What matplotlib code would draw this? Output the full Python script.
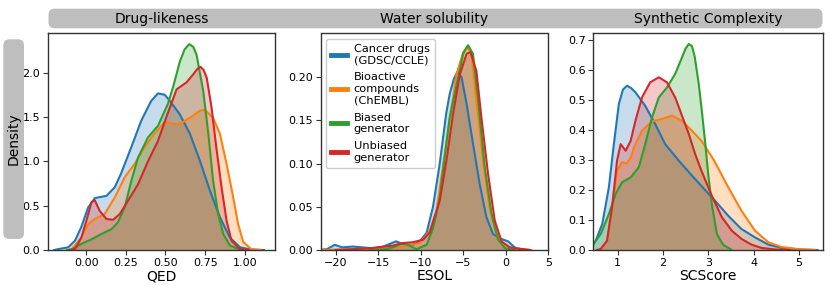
import matplotlib
matplotlib.use("Agg")
import matplotlib.pyplot as plt
from matplotlib.patches import FancyBboxPatch
from matplotlib.lines import Line2D

# ---------------- data ----------------
series_names = ["Cancer drugs\n(GDSC/CCLE)", "Bioactive\ncompounds\n(ChEMBL)",
                "Biased\ngenerator", "Unbiased\ngenerator"]
colors = ["#1f77b4", "#ff7f0e", "#2ca02c", "#d62728"]
panel_titles = ["Drug-likeness", "Water solubility", "Synthetic Complexity"]
x_labels = ["QED", "ESOL", "SCScore"]

# Panel 1: QED
qed_blue_x = [-0.2, -0.176, -0.113, -0.07, -0.03, 0.013, 0.055, 0.128, 0.18, 0.22, 0.285, 0.348,
              0.41, 0.453, 0.495, 0.528, 0.59, 0.654, 0.717, 0.78, 0.843, 0.906, 0.97, 1.04, 1.12]
qed_blue_y = [0, 0.01, 0.03, 0.105, 0.26, 0.48, 0.585, 0.61, 0.705, 0.86, 1.16, 1.46,
              1.68, 1.765, 1.75, 1.68, 1.53, 1.31, 1.005, 0.67, 0.37, 0.14, 0.03, 0.005, 0]
qed_orange_x = [-0.12, -0.09, -0.03, 0.013, 0.055, 0.117, 0.18, 0.243, 0.306, 0.369, 0.43, 0.495,
                0.55, 0.59, 0.654, 0.717, 0.748, 0.80, 0.843, 0.885, 0.927, 0.958, 0.99, 1.04, 1.1]
qed_orange_y = [0, 0.01, 0.14, 0.29, 0.35, 0.405, 0.59, 0.82, 0.97, 1.16, 1.31, 1.44,
                1.42, 1.42, 1.49, 1.57, 1.58, 1.49, 1.31, 0.97, 0.59, 0.29, 0.09, 0.01, 0]
qed_green_x = [-0.12, -0.09, -0.03, 0.034, 0.096, 0.16, 0.2, 0.243, 0.285, 0.327, 0.39, 0.453,
               0.516, 0.55, 0.59, 0.62, 0.65, 0.675, 0.696, 0.738, 0.77, 0.80, 0.832, 0.864,
               0.906, 0.97, 1.02]
qed_green_y = [0, 0.005, 0.07, 0.12, 0.18, 0.235, 0.31, 0.48, 0.78, 1.04, 1.27, 1.4,
               1.65, 1.85, 2.12, 2.26, 2.32, 2.29, 2.2, 1.79, 1.31, 0.78, 0.405, 0.18,
               0.05, 0.005, 0]
qed_red_x = [-0.1, -0.07, -0.03, 0.002, 0.034, 0.055, 0.086, 0.128, 0.17, 0.212, 0.264, 0.327,
             0.39, 0.453, 0.506, 0.57, 0.633, 0.675, 0.70, 0.72, 0.74, 0.76, 0.79, 0.82, 0.853,
             0.885, 0.916, 0.97, 1.02]
qed_red_y = [0, 0.01, 0.14, 0.33, 0.54, 0.56, 0.44, 0.35, 0.34, 0.405, 0.555, 0.74,
             1.0, 1.23, 1.5, 1.81, 1.89, 1.98, 2.04, 2.065, 2.03, 1.94, 1.61, 1.16, 0.71,
             0.33, 0.105, 0.01, 0]

# Panel 2: ESOL
esol_blue_x = [-22, -21, -20.1, -19.2, -18, -16.8, -15.6, -14.4, -12.9, -11.9, -10.9, -10.1,
               -9.3, -8.55, -7.76, -7.0, -6.6, -6.1, -5.7, -5.2, -4.6, -3.85, -3.06, -2.27,
               -1.5, -0.5, 0.27, 1.06, 2]
esol_blue_y = [0, 0.001, 0.006, 0.003, 0.004, 0.003, 0.002, 0.004, 0.01, 0.006, 0.006, 0.01,
               0.02, 0.05, 0.1, 0.158, 0.18, 0.198, 0.206, 0.2, 0.169, 0.123, 0.076, 0.038,
               0.0185, 0.0127, 0.01, 0.003, 0]
esol_orange_x = [-22, -18, -14, -12, -10.1, -8.94, -8.15, -7.4, -6.6, -5.8, -5.0, -4.55, -4.04,
                 -3.45, -2.67, -1.9, -1.1, -0.35, 0.9, 3]
esol_orange_y = [0, 0.001, 0.002, 0.004, 0.008, 0.022, 0.045, 0.096, 0.149, 0.203, 0.229, 0.235,
                 0.227, 0.173, 0.103, 0.049, 0.0185, 0.006, 0.002, 0]
esol_green_x = [-16, -14, -13, -12.1, -11.3, -10.5, -9.3, -8.55, -7.76, -7.4, -6.6, -5.8, -5.0,
                -4.43, -3.85, -3.25, -2.47, -1.68, -0.9, -0.1, 1]
esol_green_y = [0, 0.001, 0.004, 0.008, 0.005, 0.001, 0.006, 0.025, 0.06, 0.09, 0.153, 0.19,
                0.227, 0.237, 0.227, 0.173, 0.096, 0.042, 0.012, 0.002, 0]
esol_red_x = [-20, -16, -13.3, -12.1, -10.9, -9.7, -8.94, -7.76, -6.98, -6.2, -5.4, -4.6, -4.15,
              -3.45, -2.86, -2.08, -1.29, -0.5, 0.47, 2.8]
esol_red_y = [0, 0.002, 0.005, 0.008, 0.009, 0.012, 0.02, 0.057, 0.103, 0.157, 0.203, 0.227,
              0.229, 0.207, 0.153, 0.088, 0.034, 0.01, 0.003, 0]

# Panel 3: SCScore
sc_blue_x = [0.47, 0.52, 0.665, 0.81, 0.92, 1.03, 1.12, 1.21, 1.3, 1.395, 1.61, 1.83, 2.05,
             2.35, 2.64, 2.93, 3.15, 3.44, 3.73, 4.03, 4.32, 4.61, 4.98, 5.4]
sc_blue_y = [0.02, 0.031, 0.087, 0.209, 0.353, 0.487, 0.535, 0.548, 0.54, 0.526, 0.481, 0.42,
             0.353, 0.298, 0.248, 0.2, 0.164, 0.114, 0.07, 0.042, 0.018, 0.007, 0.002, 0]
sc_orange_x = [0.55, 0.63, 0.77, 0.88, 0.99, 1.1, 1.2, 1.3, 1.36, 1.54, 1.76, 1.98, 2.2, 2.42,
               2.64, 2.86, 3.08, 3.15, 3.44, 3.73, 4.03, 4.32, 4.61, 4.98, 5.35]
sc_orange_y = [0, 0.003, 0.031, 0.142, 0.264, 0.293, 0.288, 0.31, 0.342, 0.398, 0.429, 0.437,
               0.448, 0.431, 0.398, 0.362, 0.31, 0.292, 0.209, 0.131, 0.064, 0.026, 0.01, 0.003, 0]
sc_green_x = [0.47, 0.63, 0.81, 0.96, 1.1, 1.29, 1.47, 1.61, 1.76, 1.91, 2.09, 2.27, 2.42, 2.5,
              2.57, 2.64, 2.7, 2.79, 2.86, 2.93, 3.0, 3.08, 3.19, 3.33, 3.5]
sc_green_y = [0.02, 0.053, 0.12, 0.187, 0.226, 0.242, 0.276, 0.353, 0.442, 0.509, 0.542, 0.587,
              0.642, 0.672, 0.687, 0.68, 0.645, 0.553, 0.46, 0.36, 0.25, 0.15, 0.053, 0.017, 0.002]
sc_red_x = [0.55, 0.63, 0.77, 0.88, 0.99, 1.07, 1.18, 1.29, 1.395, 1.54, 1.72, 1.91, 2.09, 2.27,
            2.42, 2.57, 2.71, 2.86, 3.08, 3.3, 3.52, 3.73, 3.95, 4.17, 4.46, 4.8]
sc_red_y = [0, 0.003, 0.031, 0.142, 0.298, 0.353, 0.331, 0.364, 0.431, 0.509, 0.559, 0.576,
            0.559, 0.509, 0.448, 0.387, 0.32, 0.26, 0.18, 0.109, 0.064, 0.037, 0.018, 0.007,
            0.002, 0]

panels = [
    [(qed_blue_x, qed_blue_y), (qed_orange_x, qed_orange_y),
     (qed_green_x, qed_green_y), (qed_red_x, qed_red_y)],
    [(esol_blue_x, esol_blue_y), (esol_orange_x, esol_orange_y),
     (esol_green_x, esol_green_y), (esol_red_x, esol_red_y)],
    [(sc_blue_x, sc_blue_y), (sc_orange_x, sc_orange_y),
     (sc_green_x, sc_green_y), (sc_red_x, sc_red_y)],
]
xticks = [[0.0, 0.25, 0.5, 0.75, 1.0], [-20, -15, -10, -5, 0, 5], [1, 2, 3, 4, 5]]
xticklabels = [["0.00", "0.25", "0.50", "0.75", "1.00"],
               ["\u221220", "\u221215", "\u221210", "\u22125", "0", "5"],
               ["1", "2", "3", "4", "5"]]
yticks = [[0.0, 0.5, 1.0, 1.5, 2.0], [0.0, 0.05, 0.10, 0.15, 0.20],
          [0.0, 0.1, 0.2, 0.3, 0.4, 0.5, 0.6, 0.7]]
yticklabels = [["0.0", "0.5", "1.0", "1.5", "2.0"],
               ["0.00", "0.05", "0.10", "0.15", "0.20"],
               ["0.0", "0.1", "0.2", "0.3", "0.4", "0.5", "0.6", "0.7"]]
xlims = [(-0.24, 1.19), (-21.75, 5.0), (0.467, 5.515)]
ylims = [(0, 2.44), (0, 0.2505), (0, 0.722)]

# ---------------- figure ----------------
W, H = 830, 286
fig = plt.figure(figsize=(W / 100, H / 100), dpi=100)

ax_px = [(48, 275), (320.7, 548.3), (593.3, 822.5)]
top_px, bot_px = 33.5, 250
spine_c = "#333333"

axes = []
for i, (l, r) in enumerate(ax_px):
    ax = fig.add_axes([l / W, (H - bot_px) / H, (r - l) / W, (bot_px - top_px) / H])
    for (xs, ys), c in zip(panels[i], colors):
        ax.fill_between(xs, ys, 0, color=c, alpha=0.25, linewidth=0)
        ax.plot(xs, ys, color=c, lw=1.5)
    ax.set_xlim(*xlims[i])
    ax.set_ylim(*ylims[i])
    ax.set_xticks(xticks[i])
    ax.set_xticklabels(xticklabels[i])
    ax.set_yticks(yticks[i])
    ax.set_yticklabels(yticklabels[i])
    ax.tick_params(labelsize=8, length=3.5, width=0.8, color=spine_c, pad=2)
    for s in ax.spines.values():
        s.set_color(spine_c)
        s.set_linewidth(1.0)
    ax.set_xlabel(x_labels[i], fontsize=10, labelpad=1)
    axes.append(ax)

# legend in the middle panel
handles = [Line2D([0], [0], color=c, lw=3.5) for c in colors]
leg = axes[1].legend(handles, series_names, loc="upper left", fontsize=8.2,
                     handlelength=1.4, handletextpad=0.6, labelspacing=0.62,
                     borderpad=0.45, borderaxespad=0.45, framealpha=1,
                     edgecolor="#cccccc", fancybox=True)

# header bar
bar_c = "#bebebe"
hdr = FancyBboxPatch((0.485, 2.577), 8.225 - 0.485, 2.773 - 2.577,
                     boxstyle="round,pad=0,rounding_size=0.06",
                     transform=fig.dpi_scale_trans, facecolor=bar_c, edgecolor="none",
                     zorder=0)
fig.patches.append(hdr)
for i, (l, r) in enumerate(ax_px):
    fig.text((l + r) / 2 / W, (H - 18.5) / H, panel_titles[i], ha="center", va="center",
             fontsize=10)

# left Density bar
side = FancyBboxPatch((0.033, 0.47), 0.24 - 0.033, 2.467 - 0.47,
                      boxstyle="round,pad=0,rounding_size=0.06",
                      transform=fig.dpi_scale_trans, facecolor=bar_c, edgecolor="none",
                      zorder=0)
fig.patches.append(side)
fig.text(13.6 / W, (H - 139) / H, "Density", rotation=90, ha="center", va="center",
         fontsize=10)

fig.savefig("out.png", dpi=100)
